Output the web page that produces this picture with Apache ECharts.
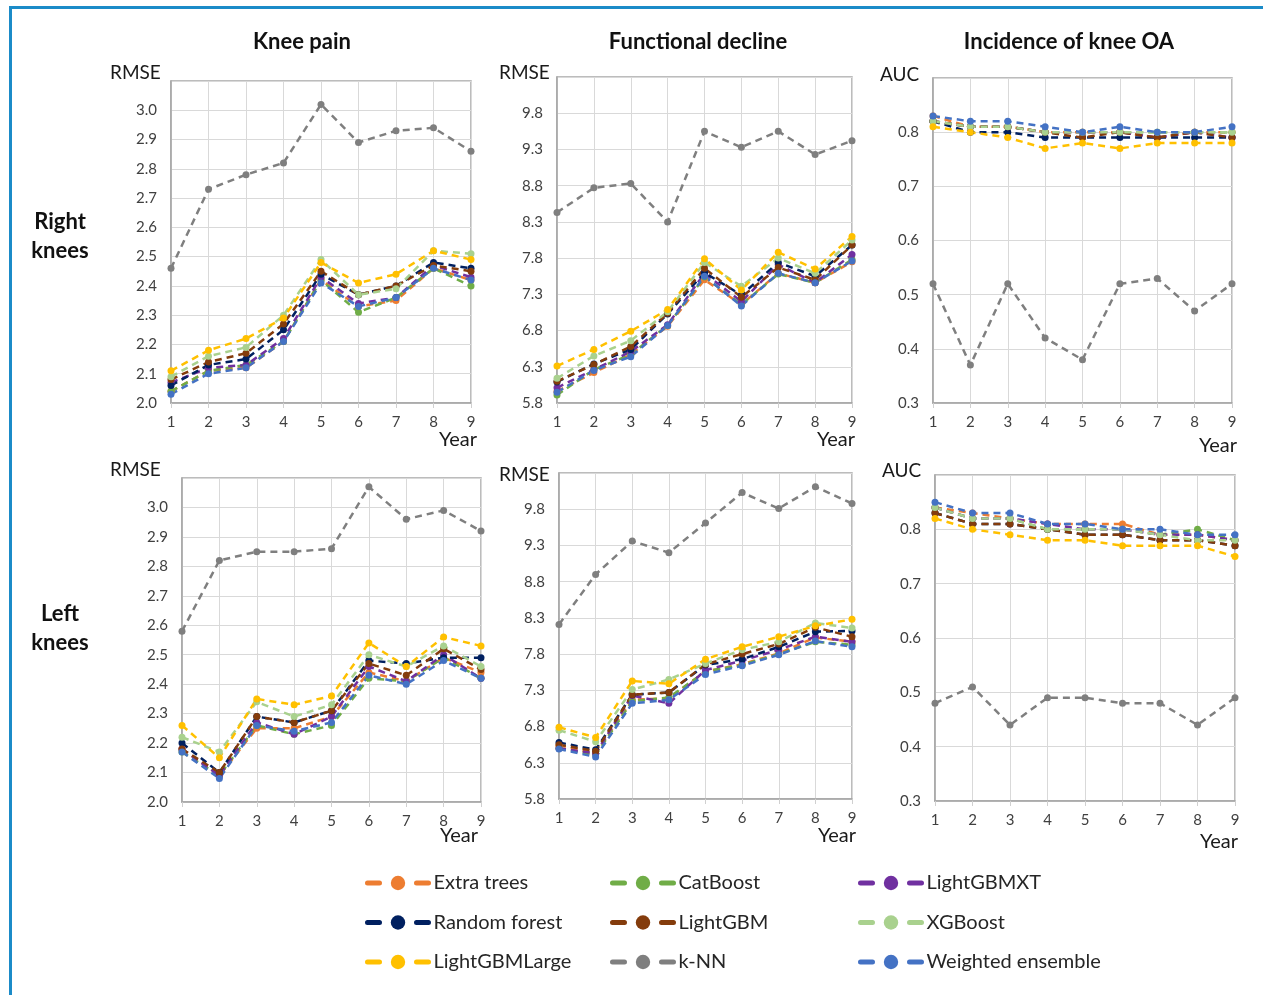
<!DOCTYPE html>
<html>
<head>
<meta charset="utf-8">
<title>Knee OA model comparison</title>
<script src="https://cdn.jsdelivr.net/npm/echarts@6/dist/echarts.min.js"></script>
<style>
  html, body { margin: 0; padding: 0; background: #fff; }
  #wrap { position: relative; width: 1263px; height: 995px; overflow: hidden; }
  #frame { position: absolute; left: 9px; top: 6px; right: 0; bottom: 0;
           border-top: 3px solid #1b8bc8; border-left: 3px solid #1b8bc8; }
  #chart { position: absolute; left: 0; top: 0; width: 1263px; height: 995px; }
</style>
</head>
<body>
<div id="wrap">
  <div id="frame"></div>
  <div id="chart"></div>
</div>
<script>
// x categories
const years = ['1', '2', '3', '4', '5', '6', '7', '8', '9'];

// models, in legend order (row by row)
const models = ['Extra trees', 'CatBoost', 'LightGBMXT',
                'Random forest', 'LightGBM', 'XGBoost',
                'LightGBMLarge', 'k-NN', 'Weighted ensemble'];
const modelColors = ['#ED7D31', '#70AD47', '#7030A0',
                     '#002060', '#843C0C', '#A9D18E',
                     '#FFC000', '#7F7F7F', '#4472C4'];

// knee pain, right knees (RMSE)
const painRight = {
  'Extra trees':       [2.04, 2.11, 2.12, 2.21, 2.42, 2.33, 2.35, 2.46, 2.42],
  'CatBoost':          [2.04, 2.11, 2.13, 2.21, 2.42, 2.31, 2.36, 2.46, 2.40],
  'LightGBMXT':        [2.07, 2.12, 2.13, 2.22, 2.43, 2.34, 2.36, 2.47, 2.43],
  'Random forest':     [2.06, 2.13, 2.15, 2.25, 2.44, 2.37, 2.40, 2.48, 2.46],
  'LightGBM':          [2.08, 2.14, 2.17, 2.27, 2.45, 2.37, 2.40, 2.47, 2.45],
  'XGBoost':           [2.09, 2.16, 2.19, 2.30, 2.49, 2.37, 2.39, 2.52, 2.51],
  'LightGBMLarge':     [2.11, 2.18, 2.22, 2.29, 2.48, 2.41, 2.44, 2.52, 2.49],
  'k-NN':              [2.46, 2.73, 2.78, 2.82, 3.02, 2.89, 2.93, 2.94, 2.86],
  'Weighted ensemble': [2.03, 2.10, 2.12, 2.21, 2.41, 2.33, 2.36, 2.46, 2.42]
};

// functional decline, right knees (RMSE)
const funcRight = {
  'Extra trees':       [5.96, 6.22, 6.47, 6.86, 7.50, 7.16, 7.59, 7.46, 7.75],
  'CatBoost':          [5.91, 6.26, 6.47, 6.87, 7.54, 7.16, 7.58, 7.46, 7.78],
  'LightGBMXT':        [6.01, 6.26, 6.51, 6.88, 7.59, 7.20, 7.71, 7.46, 7.85],
  'Random forest':     [6.09, 6.34, 6.54, 7.03, 7.60, 7.29, 7.74, 7.55, 7.98],
  'LightGBM':          [6.10, 6.33, 6.58, 7.04, 7.66, 7.26, 7.67, 7.50, 7.98],
  'XGBoost':           [6.14, 6.45, 6.66, 7.06, 7.74, 7.41, 7.80, 7.59, 8.05],
  'LightGBMLarge':     [6.31, 6.54, 6.79, 7.09, 7.79, 7.36, 7.88, 7.65, 8.10],
  'k-NN':              [8.43, 8.77, 8.83, 8.30, 9.55, 9.33, 9.55, 9.23, 9.42],
  'Weighted ensemble': [5.95, 6.25, 6.44, 6.87, 7.55, 7.14, 7.59, 7.46, 7.76]
};

// incidence of knee OA, right knees (AUC)
const oaRight = {
  'Extra trees':       [0.83, 0.81, 0.81, 0.80, 0.80, 0.80, 0.79, 0.80, 0.80],
  'CatBoost':          [0.82, 0.81, 0.81, 0.80, 0.80, 0.80, 0.80, 0.80, 0.80],
  'LightGBMXT':        [0.82, 0.81, 0.81, 0.80, 0.80, 0.80, 0.79, 0.80, 0.79],
  'Random forest':     [0.82, 0.80, 0.80, 0.79, 0.79, 0.79, 0.79, 0.79, 0.79],
  'LightGBM':          [0.82, 0.81, 0.81, 0.80, 0.79, 0.80, 0.79, 0.80, 0.79],
  'XGBoost':           [0.82, 0.81, 0.81, 0.80, 0.80, 0.80, 0.80, 0.80, 0.80],
  'LightGBMLarge':     [0.81, 0.80, 0.79, 0.77, 0.78, 0.77, 0.78, 0.78, 0.78],
  'k-NN':              [0.52, 0.37, 0.52, 0.42, 0.38, 0.52, 0.53, 0.47, 0.52],
  'Weighted ensemble': [0.83, 0.82, 0.82, 0.81, 0.80, 0.81, 0.80, 0.80, 0.81]
};

// knee pain, left knees (RMSE)
const painLeft = {
  'Extra trees':       [2.18, 2.09, 2.25, 2.25, 2.29, 2.44, 2.41, 2.49, 2.44],
  'CatBoost':          [2.17, 2.09, 2.26, 2.23, 2.26, 2.42, 2.41, 2.49, 2.42],
  'LightGBMXT':        [2.18, 2.09, 2.27, 2.23, 2.29, 2.46, 2.41, 2.50, 2.42],
  'Random forest':     [2.20, 2.10, 2.29, 2.27, 2.31, 2.48, 2.47, 2.49, 2.49],
  'LightGBM':          [2.18, 2.10, 2.29, 2.27, 2.31, 2.47, 2.43, 2.52, 2.45],
  'XGBoost':           [2.22, 2.17, 2.34, 2.29, 2.33, 2.50, 2.46, 2.53, 2.46],
  'LightGBMLarge':     [2.26, 2.15, 2.35, 2.33, 2.36, 2.54, 2.46, 2.56, 2.53],
  'k-NN':              [2.58, 2.82, 2.85, 2.85, 2.86, 3.07, 2.96, 2.99, 2.92],
  'Weighted ensemble': [2.17, 2.08, 2.26, 2.24, 2.27, 2.43, 2.40, 2.48, 2.42]
};

// functional decline, left knees (RMSE)
const funcLeft = {
  'Extra trees':       [6.54, 6.43, 7.17, 7.19, 7.56, 7.66, 7.81, 8.03, 7.97],
  'CatBoost':          [6.50, 6.41, 7.15, 7.20, 7.56, 7.65, 7.80, 7.97, 7.93],
  'LightGBMXT':        [6.50, 6.43, 7.23, 7.12, 7.58, 7.71, 7.86, 8.04, 7.97],
  'Random forest':     [6.58, 6.48, 7.24, 7.27, 7.65, 7.73, 7.90, 8.11, 8.12],
  'LightGBM':          [6.55, 6.46, 7.24, 7.27, 7.66, 7.80, 7.94, 8.17, 8.04],
  'XGBoost':           [6.75, 6.59, 7.31, 7.45, 7.67, 7.86, 7.97, 8.23, 8.16],
  'LightGBMLarge':     [6.79, 6.65, 7.43, 7.39, 7.73, 7.90, 8.04, 8.19, 8.28],
  'k-NN':              [8.21, 8.90, 9.36, 9.20, 9.61, 10.03, 9.81, 10.11, 9.88],
  'Weighted ensemble': [6.49, 6.38, 7.12, 7.17, 7.52, 7.64, 7.79, 7.98, 7.90]
};

// incidence of knee OA, left knees (AUC)
const oaLeft = {
  'Extra trees':       [0.84, 0.83, 0.82, 0.81, 0.81, 0.81, 0.79, 0.79, 0.78],
  'CatBoost':          [0.84, 0.82, 0.82, 0.80, 0.80, 0.80, 0.79, 0.80, 0.78],
  'LightGBMXT':        [0.84, 0.82, 0.82, 0.81, 0.80, 0.80, 0.79, 0.79, 0.78],
  'Random forest':     [0.83, 0.81, 0.81, 0.80, 0.79, 0.79, 0.78, 0.78, 0.77],
  'LightGBM':          [0.83, 0.81, 0.81, 0.80, 0.79, 0.79, 0.78, 0.78, 0.77],
  'XGBoost':           [0.84, 0.82, 0.82, 0.80, 0.80, 0.80, 0.79, 0.78, 0.78],
  'LightGBMLarge':     [0.82, 0.80, 0.79, 0.78, 0.78, 0.77, 0.77, 0.77, 0.75],
  'k-NN':              [0.48, 0.51, 0.44, 0.49, 0.49, 0.48, 0.48, 0.44, 0.49],
  'Weighted ensemble': [0.85, 0.83, 0.83, 0.81, 0.81, 0.80, 0.80, 0.79, 0.79]
};

const colTitles = ['Knee pain', 'Functional decline', 'Incidence of knee OA'];
const rowTitles = ['Right\nknees', 'Left\nknees'];

// panel layout (plot area in px)
const panels = [
  {data: painRight, metric: 'RMSE', min: 2.0, max: 3.1, step: 0.1, rect: [171, 81, 300, 322], name: [110, 73], year: [477, 440]},
  {data: funcRight, metric: 'RMSE', min: 5.8, max: 10.3, step: 0.5, rect: [557, 77, 295, 326], name: [499, 73], year: [855, 440]},
  {data: oaRight,   metric: 'AUC',  min: 0.3, max: 0.9, step: 0.1, rect: [933, 78, 299, 325], name: [880, 75], year: [1237, 446]},
  {data: painLeft,  metric: 'RMSE', min: 2.0, max: 3.1, step: 0.1, rect: [182, 478, 299, 324], name: [110, 470], year: [478, 836]},
  {data: funcLeft,  metric: 'RMSE', min: 5.8, max: 10.3, step: 0.5, rect: [559, 473, 293, 326], name: [499, 475], year: [856, 836]},
  {data: oaLeft,    metric: 'AUC',  min: 0.3, max: 0.9, step: 0.1, rect: [935, 475, 300, 326], name: [882, 471], year: [1238, 842]}
];

const FONT = 'Lato, "Open Sans", sans-serif';
const grids = [], xAxes = [], yAxes = [], series = [], texts = [];

panels.forEach((p, i) => {
  grids.push({
    left: p.rect[0], top: p.rect[1], width: p.rect[2], height: p.rect[3],
    show: true, borderColor: '#a6a6a6', borderWidth: 1.5, backgroundColor: 'transparent'
  });
  xAxes.push({
    type: 'category', gridIndex: i, data: years, boundaryGap: false,
    axisLine: {lineStyle: {color: '#a6a6a6', width: 1.5}},
    axisTick: {show: true, length: 5, lineStyle: {color: '#d0d0d0'}},
    axisLabel: {color: '#404040', fontSize: 15, fontFamily: FONT, margin: 12},
    splitLine: {show: true, lineStyle: {color: '#d9d9d9', width: 1}}
  });
  yAxes.push({
    type: 'value', gridIndex: i, min: p.min, max: p.max, interval: p.step,
    axisLine: {show: true, lineStyle: {color: '#a6a6a6', width: 1.5}},
    axisTick: {show: false},
    axisLabel: {color: '#404040', fontSize: 15, fontFamily: FONT, margin: 14,
                showMaxLabel: false, formatter: v => v.toFixed(1)},
    splitLine: {show: true, lineStyle: {color: '#d9d9d9', width: 1}}
  });
  models.forEach((m, k) => {
    series.push({
      name: m, type: 'line', xAxisIndex: i, yAxisIndex: i,
      data: p.data[m],
      symbol: 'circle', symbolSize: 7,
      itemStyle: {color: modelColors[k]},
      lineStyle: {color: modelColors[k], width: 2.5, type: [7, 5]},
      emphasis: {disabled: true}, animation: false
    });
  });
  texts.push({type: 'text', x: p.name[0], y: p.name[1],
    style: {text: p.metric, font: '19px ' + FONT, fill: '#1a1a1a', verticalAlign: 'middle'}});
  texts.push({type: 'text', x: p.year[0], y: p.year[1],
    style: {text: 'Year', font: '20px ' + FONT, fill: '#1a1a1a', align: 'right', verticalAlign: 'middle'}});
});

[302, 698, 1069].forEach((cx, j) => {
  texts.push({type: 'text', x: cx, y: 42,
    style: {text: colTitles[j], font: 'bold 22px ' + FONT, fill: '#111', align: 'center', verticalAlign: 'middle'}});
});
[236, 628].forEach((cy, j) => {
  texts.push({type: 'text', x: 60, y: cy,
    style: {text: rowTitles[j], font: 'bold 22px ' + FONT, fill: '#111', align: 'center',
            verticalAlign: 'middle', lineHeight: 29}});
});

// legend: three columns
const legendCols = [
  {left: 365, names: ['Extra trees', 'Random forest', 'LightGBMLarge']},
  {left: 610, names: ['CatBoost', 'LightGBM', 'k-NN']},
  {left: 858, names: ['LightGBMXT', 'XGBoost', 'Weighted ensemble']}
];
const legends = legendCols.map(c => ({
  orient: 'vertical', left: c.left, top: 873, padding: 0,
  data: c.names, selectedMode: false,
  itemWidth: 61, itemHeight: 18, itemGap: 19.5,
  lineStyle: {width: 5, type: [12, 37], cap: 'round'},
  textStyle: {fontSize: 20, fontFamily: FONT, color: '#262626', lineHeight: 20}
}));

const chart = echarts.init(document.getElementById('chart'), null, {renderer: 'canvas'});
chart.setOption({
  animation: false,
  grid: grids,
  xAxis: xAxes,
  yAxis: yAxes,
  legend: legends,
  graphic: texts,
  series: series
});
</script>
</body>
</html>
